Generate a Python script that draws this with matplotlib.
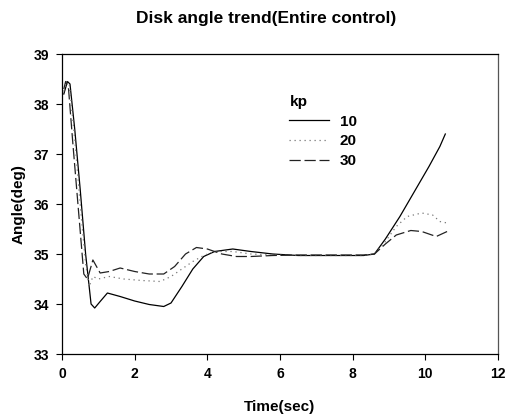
import matplotlib.pyplot as plt

plt.rcParams['font.family'] = ['Liberation Sans', 'DejaVu Sans']

# time (sec) and disk angle (deg)
t_10 = [0.05, 0.15, 0.22, 0.35, 0.5, 0.65, 0.8, 0.9, 1.05, 1.25, 1.6, 2.0, 2.4, 2.8, 3.0,
        3.3, 3.6, 3.9, 4.2, 4.7, 5.2, 5.8, 6.5, 7.5, 8.3, 8.6, 8.9, 9.3, 9.7, 10.1, 10.4, 10.55]
a_10 = [38.2, 38.45, 38.4, 37.5, 36.3, 35.0, 34.0, 33.92, 34.05, 34.22, 34.15, 34.06, 33.99, 33.95, 34.02,
        34.35, 34.7, 34.95, 35.05, 35.1, 35.05, 35.0, 34.97, 34.97, 34.97, 35.0, 35.3, 35.75, 36.25, 36.75, 37.15, 37.4]

t_20 = [0.05, 0.12, 0.2, 0.35, 0.5, 0.65, 0.75, 0.85, 1.0, 1.3, 1.7, 2.2, 2.7, 3.0,
        3.3, 3.6, 3.9, 4.2, 4.7, 5.2, 5.8, 6.5, 7.5, 8.3, 8.6, 8.9, 9.2, 9.5, 9.9, 10.2, 10.4, 10.6]
a_20 = [38.25, 38.45, 38.4, 37.3, 36.0, 34.8, 34.35, 34.55, 34.5, 34.55, 34.5, 34.47, 34.45, 34.55,
        34.7, 34.85, 34.97, 35.05, 35.05, 35.0, 34.98, 34.97, 34.97, 34.97, 35.0, 35.25, 35.55, 35.75, 35.82, 35.78, 35.65, 35.62]

t_30 = [0.05, 0.1, 0.18, 0.3, 0.45, 0.6, 0.7, 0.85, 1.05, 1.3, 1.6, 2.0, 2.4, 2.8, 3.1,
        3.4, 3.7, 4.0, 4.4, 4.8, 5.2, 5.8, 6.5, 7.5, 8.3, 8.6, 8.9, 9.2, 9.6, 9.9, 10.3, 10.6]
a_30 = [38.3, 38.45, 38.3, 37.2, 35.9, 34.6, 34.5, 34.88, 34.62, 34.65, 34.72, 34.65, 34.6, 34.6, 34.75,
        35.0, 35.13, 35.1, 35.0, 34.95, 34.95, 34.97, 34.98, 34.98, 34.98, 35.0, 35.2, 35.38, 35.47, 35.45, 35.35, 35.45]

legend_title = 'kp'
labels = ['10', '20', '30']

fig = plt.figure(figsize=(5.07, 4.19), dpi=100)
ax = fig.add_axes([62 / 507, 65 / 419, 436 / 507, 300 / 419])

ax.plot(t_10, a_10, color='black', lw=0.9, ls='-', label=labels[0])
ax.plot(t_20, a_20, color='#777777', lw=0.9, ls=(0, (1, 3)), label=labels[1])
ax.plot(t_30, a_30, color='#222222', lw=0.9, ls=(0, (9, 3)), label=labels[2])

ax.set_xlim(0, 12)
ax.set_ylim(33, 39)
ax.set_xticks(range(0, 13, 2))
ax.set_yticks(range(33, 40))
ax.tick_params(direction='out', length=4, width=0.8, labelsize=10, pad=5)
for lab in ax.get_xticklabels() + ax.get_yticklabels():
    lab.set_fontweight('bold')
for sp in ax.spines.values():
    sp.set_linewidth(0.9)
ax.spines['right'].set_color('#555555')

fig.text(266 / 507, 1 - 19 / 419, 'Disk angle trend(Entire control)', fontsize=12.5,
         fontweight='bold', ha='center', va='center')
ax.set_xlabel('Time(sec)', fontsize=11, fontweight='bold', labelpad=14)
ax.set_ylabel('Angle(deg)', fontsize=11, fontweight='bold', labelpad=6)

leg = ax.legend(title=legend_title, frameon=False, loc='upper left',
                bbox_to_anchor=(0.49, 0.91), handlelength=2.6, handletextpad=0.7,
                labelspacing=0.38, prop={'weight': 'bold', 'size': 11})
leg.get_title().set_fontweight('bold')
leg.get_title().set_fontsize(11)
leg._legend_box.align = 'left'

fig.savefig('out.png', dpi=100)
